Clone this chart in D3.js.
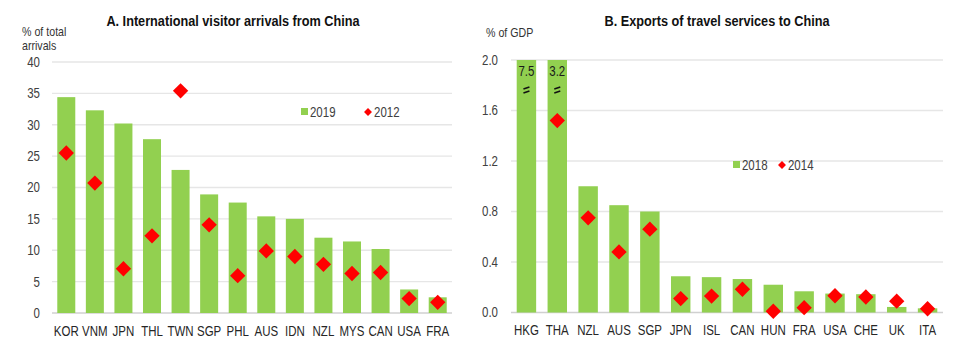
<!DOCTYPE html>
<html>
<head>
<meta charset="utf-8">
<script src="https://cdn.jsdelivr.net/npm/d3@7"></script>
<style>
  body { margin: 0; background: #fff; }
  svg text { font-family: "Liberation Sans Narrow", "Arial Narrow", "Liberation Sans", Arial, sans-serif; }
</style>
</head>
<body>
<svg id="chart" width="967" height="351"></svg>
<script>
// Panel A data
const countriesA = ["KOR", "VNM", "JPN", "THL", "TWN", "SGP", "PHL", "AUS", "IDN", "NZL", "MYS", "CAN", "USA", "FRA"];
const arrivals2019 = [34.4, 32.3, 30.2, 27.7, 22.8, 18.9, 17.6, 15.4, 15.0, 12.0, 11.4, 10.2, 3.75, 2.5];
const arrivals2012 = [25.5, 20.7, 7.05, 12.3, 35.4, 14.05, 5.95, 9.9, 9.0, 7.75, 6.3, 6.45, 2.3, 1.7];
const ticksA = [0, 5, 10, 15, 20, 25, 30, 35, 40];

// Panel B data (HKG and THA bars are truncated at 2.0, real values labelled)
const countriesB = ["HKG", "THA", "NZL", "AUS", "SGP", "JPN", "ISL", "CAN", "HUN", "FRA", "USA", "CHE", "UK", "ITA"];
const exports2018 = [7.5, 3.2, 1.0, 0.85, 0.8, 0.287, 0.28, 0.265, 0.22, 0.168, 0.15, 0.145, 0.044, 0.033];
const exports2014 = [null, 1.52, 0.75, 0.48, 0.66, 0.11, 0.13, 0.184, 0.01, 0.038, 0.133, 0.123, 0.09, 0.03];
const ticksB = [0, 0.4, 0.8, 1.2, 1.6, 2.0];

const green = "#92d050";
const red = "#ff0000";
const svg = d3.select("#chart");

function drawPanel(opt) {
    const g = svg.append("g");
    const x = d3.scaleBand().domain(opt.cats).range([opt.x0, opt.x1]).paddingInner(0.37).paddingOuter(0.185);
    const y = d3.scaleLinear().domain(opt.domain).range([opt.y0, opt.y1]);

    // gridlines
    g.selectAll(".grid")
        .data(opt.ticks)
        .enter()
        .append("line")
        .attr("x1", opt.x0)
        .attr("x2", opt.x1)
        .attr("y1", d => y(d))
        .attr("y2", d => y(d))
        .attr("stroke", d => d === 0 ? "#d0d0d0" : "#e6e6e6")
        .attr("stroke-width", 1.3);

    // y tick labels
    g.selectAll(".ytick")
        .data(opt.ticks)
        .enter()
        .append("text")
        .attr("x", opt.tickX)
        .attr("y", d => y(d))
        .attr("dy", "0.35em")
        .attr("text-anchor", "end")
        .style("font-size", "14px")
        .style("fill", "#404040")
        .text(opt.fmt);

    // bars (capped at the top of the axis)
    const top = opt.domain[1];
    g.selectAll(".bar")
        .data(opt.cats)
        .enter()
        .append("rect")
        .attr("x", d => x(d))
        .attr("width", x.bandwidth())
        .attr("y", (d, i) => y(Math.min(opt.bars[i], top)))
        .attr("height", (d, i) => y(0) - y(Math.min(opt.bars[i], top)))
        .attr("fill", green);

    // labels and break marks on truncated bars
    opt.cats.forEach((c, i) => {
        if (opt.bars[i] <= top) return;
        const cx = x(c) + x.bandwidth() / 2;
        g.append("text")
            .attr("x", cx)
            .attr("y", y(top) + 16)
            .attr("text-anchor", "middle")
            .style("font-size", "14px")
            .style("fill", "#1a1a1a")
            .text(opt.bars[i].toFixed(1));
        [-2, 2].forEach(off => {
            g.append("line")
                .attr("x1", cx - 3)
                .attr("x2", cx + 3)
                .attr("y1", y(top) + 31 + off)
                .attr("y2", y(top) + 29 + off)
                .attr("stroke", "#111")
                .attr("stroke-width", 1.6);
        });
    });

    // diamonds
    const diamond = d3.symbol().type(d3.symbolDiamond2).size(opt.dSize);
    g.selectAll(".pt")
        .data(opt.cats.map((c, i) => ({ c, v: opt.pts[i] })).filter(d => d.v !== null))
        .enter()
        .append("path")
        .attr("d", diamond)
        .attr("transform", d => `translate(${x(d.c) + x.bandwidth() / 2},${y(d.v)})`)
        .attr("fill", red);

    // x labels
    g.selectAll(".xl")
        .data(opt.cats)
        .enter()
        .append("text")
        .attr("x", d => x(d) + x.bandwidth() / 2)
        .attr("y", opt.y0 + 23)
        .attr("text-anchor", "middle")
        .style("font-size", "14px")
        .style("fill", "#262626")
        .text(d => d);

    // title
    g.append("text")
        .attr("x", opt.titleX)
        .attr("y", 26)
        .attr("text-anchor", "middle")
        .style("font-size", "15.5px")
        .style("font-weight", 700)
        .style("fill", "#111")
        .text(opt.title);

    // y unit label
    opt.unit.forEach((t, i) => {
        g.append("text")
            .attr("x", opt.unitX)
            .attr("y", opt.unitY + i * 14)
            .style("font-size", "13px")
            .style("fill", "#333")
            .text(t);
    });

    // legend
    const lg = g.append("g").attr("transform", `translate(${opt.legX},${opt.legY})`);
    lg.append("rect").attr("x", -4).attr("y", -4).attr("width", 7).attr("height", 7).attr("fill", green);
    lg.append("text").attr("x", 5).attr("y", 0).attr("dy", "0.35em").style("font-size", "14px").style("fill", "#404040").text(opt.legend[0]);
    lg.append("path").attr("d", d3.symbol().type(d3.symbolDiamond2).size(40)).attr("transform", `translate(${opt.legGap},0)`).attr("fill", red);
    lg.append("text").attr("x", opt.legGap + 6).attr("y", 0).attr("dy", "0.35em").style("font-size", "14px").style("fill", "#404040").text(opt.legend[1]);
}

drawPanel({
    cats: countriesA, bars: arrivals2019, pts: arrivals2012, ticks: ticksA,
    domain: [0, 40], x0: 52, x1: 452, y0: 313, y1: 62, tickX: 40,
    fmt: d => d, dSize: 150,
    title: "A. International visitor arrivals from China", titleX: 233,
    unit: ["% of total", "arrivals"], unitX: 22, unitY: 36,
    legend: ["2019", "2012"], legX: 305, legY: 112, legGap: 63
});

drawPanel({
    cats: countriesB, bars: exports2018, pts: exports2014, ticks: ticksB,
    domain: [0, 2], x0: 511, x1: 943, y0: 312.5, y1: 60, tickX: 498,
    fmt: d => d.toFixed(1), dSize: 150,
    title: "B. Exports of travel services to China", titleX: 717,
    unit: ["% of GDP"], unitX: 486, unitY: 37,
    legend: ["2018", "2014"], legX: 737, legY: 165, legGap: 45
});

// no narrow font installed: squeeze every label horizontally around its anchor
svg.selectAll("text").each(function () {
    const t = d3.select(this);
    const tx = +t.attr("x"), ty = +t.attr("y");
    t.attr("transform", `translate(${tx},${ty}) scale(0.82,1) translate(${-tx},${-ty})`);
});
</script>
</body>
</html>
